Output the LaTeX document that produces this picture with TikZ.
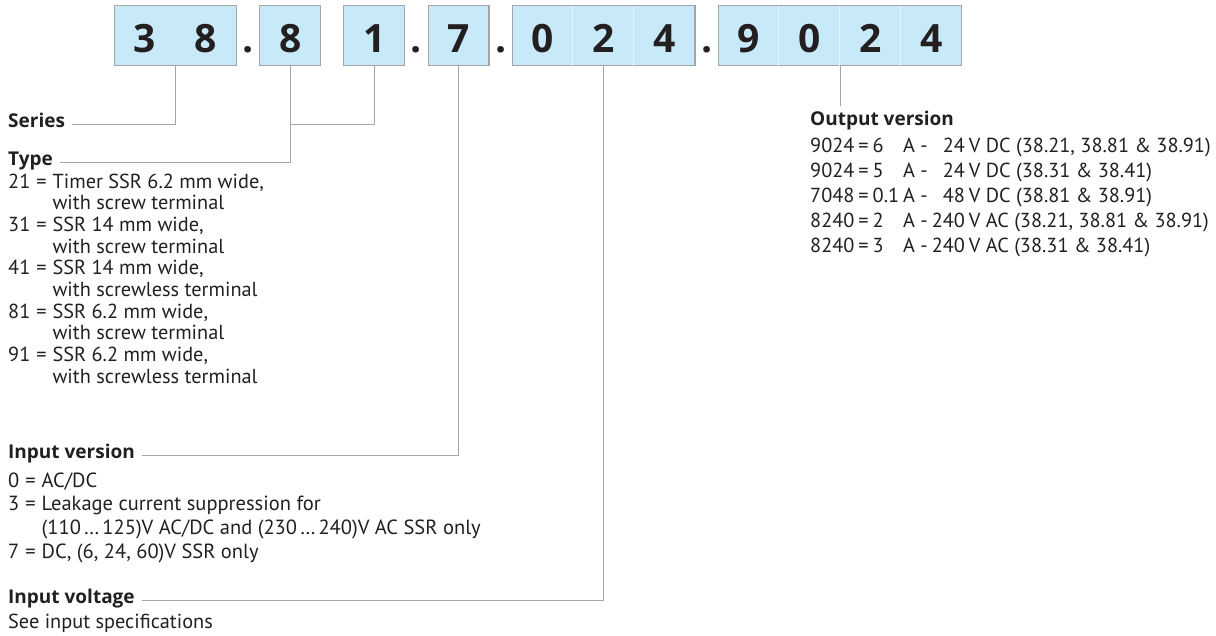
\documentclass[tikz,border=0pt]{standalone}
\usepackage{fontspec}
\setmainfont{PT Sans}
\newfontfamily\headfont{Open Sans}
\usetikzlibrary{positioning}
\definecolor{boxfill}{HTML}{C8E9F8}
\definecolor{boxline}{HTML}{A3A5A8}
\definecolor{txt}{HTML}{231F20}
\newlength{\cellw}\setlength{\cellw}{60.8pt}
\newcommand{\dg}[1]{\makebox[\cellw]{#1}}
\newcommand{\dts}{\makebox[1.05em]{…}}

\begin{document}
\begin{tikzpicture}[x=1pt, y=-1pt,
	digit/.style={font=\headfont\fontsize{39}{39}\selectfont\bfseries, text=txt, inner sep=0pt, minimum height=60pt, text height=34pt, text depth=0pt},
	codebox/.style={digit, draw=boxline, fill=boxfill, line width=1.2pt},
	sepdot/.style={digit, minimum width=22pt},
	cellsep/.style={draw=white!55!boxfill, line width=0.8pt},
	head/.style={font=\headfont\fontsize{19}{21.7}\selectfont\bfseries, text=txt, inner sep=0pt, anchor=base west},
	body/.style={font=\fontsize{20.3}{21.7}\selectfont, text=txt, inner sep=0pt, anchor=base west},
	conn/.style={draw=boxline, line width=1pt}]

	\useasboundingbox (0,0) rectangle (1216,635);

	% code boxes %
	\node[codebox, anchor=north west] (b38) at (114,5) {\dg{3}\dg{8}};
	\node[sepdot, right=0pt of b38] (d1) {.};
	\node[codebox, right=0pt of d1] (b8) {\dg{8}};
	\node[codebox, right=22pt of b8] (b1) {\dg{1}};
	\node[sepdot, right=0pt of b1] (d2) {.};
	\node[codebox, right=0pt of d2] (b7) {\dg{7}};
	\node[sepdot, right=0pt of b7] (d3) {.};
	\node[codebox, right=0pt of d3] (b024) {\dg{0}\dg{2}\dg{4}};
	\node[sepdot, right=0pt of b024] (d4) {.};
	\node[codebox, right=0pt of d4] (b9024) {\dg{9}\dg{0}\dg{2}\dg{4}};

	\foreach \k in {1,2}
		\draw[cellsep] ([xshift=\k*\cellw, yshift=-0.6pt]b024.north west) -- ([xshift=\k*\cellw, yshift=0.6pt]b024.south west);
	\foreach \k in {1,2,3}
		\draw[cellsep] ([xshift=\k*\cellw, yshift=-0.6pt]b9024.north west) -- ([xshift=\k*\cellw, yshift=0.6pt]b9024.south west);

	% labels - left column %
	\node[head] (series) at (8,127) {Series};
	\node[head] (type) at (8,165) {Type};
	\node[body] (typelist) at (8,188) {\begin{tabular}[t]{@{}r@{\hspace{6pt}}c@{\hspace{6pt}}l@{}}
		21 & = & Timer SSR 6.2 mm wide,\\
		   &   & with screw terminal\\
		31 & = & SSR 14 mm wide,\\
		   &   & with screw terminal\\
		41 & = & SSR 14 mm wide,\\
		   &   & with screwless terminal\\
		81 & = & SSR 6.2 mm wide,\\
		   &   & with screw terminal\\
		91 & = & SSR 6.2 mm wide,\\
		   &   & with screwless terminal
	\end{tabular}};
	\node[head] (inver) at (8,458) {Input version};
	\node[body, font=\fontsize{20.5}{23.7}\selectfont] (inverlist) at (8,487) {\begin{tabular}[t]{@{}r@{\hspace{6pt}}c@{\hspace{6pt}}l@{}}
		0 & = & AC/DC\\
		3 & = & Leakage current suppression for\\
		  &   & (110\dts125)V AC/DC and (230\dts240)V AC SSR only\\
		7 & = & DC, (6, 24, 60)V SSR only
	\end{tabular}};
	\node[head] (involt) at (8,603) {Input voltage};
	\node[body] (see) at (8,628) {See input specifications};

	% labels - right column %
	\node[head] (outver) at (810,125) {Output version};
	\node[body, font=\fontsize{20.3}{25}\selectfont] (outlist) at (810,152) {\begin{tabular}[t]{@{}l@{\hspace{4pt}=\hspace{4pt}}l@{\hspace{4pt}}l@{\hspace{4pt}}r@{\hspace{4pt}}l@{}}
		9024 & 6 & A - & 24 & V DC (38.21, 38.81 \& 38.91)\\
		9024 & 5 & A - & 24 & V DC (38.31 \& 38.41)\\
		7048 & 0.1 & A - & 48 & V DC (38.81 \& 38.91)\\
		8240 & 2 & A - & 240 & V AC (38.21, 38.81 \& 38.91)\\
		8240 & 3 & A - & 240 & V AC (38.31 \& 38.41)
	\end{tabular}};

	% line ends %
	\coordinate (serend) at ([shift={(7pt,2.5pt)}]series.base east);
	\coordinate (typend) at ([shift={(7pt,2.5pt)}]type.base east);
	\coordinate (inverend) at ([shift={(7pt,2.5pt)}]inver.base east);
	\coordinate (involtend) at ([shift={(7pt,2.5pt)}]involt.base east);
	\coordinate (outtop) at ([yshift=4pt]outver.north);

	% connectors %
	\draw[conn] (b38.south) |- (serend);
	\draw[conn] (b1.south) |- (b8.south |- serend);
	\draw[conn] (b8.south) |- (typend);
	\draw[conn] (b7.south) |- (inverend);
	\draw[conn] (b024.south) |- (involtend);
	\draw[conn] (b9024.south) -- (b9024.south |- outtop);

\end{tikzpicture}
\end{document}
